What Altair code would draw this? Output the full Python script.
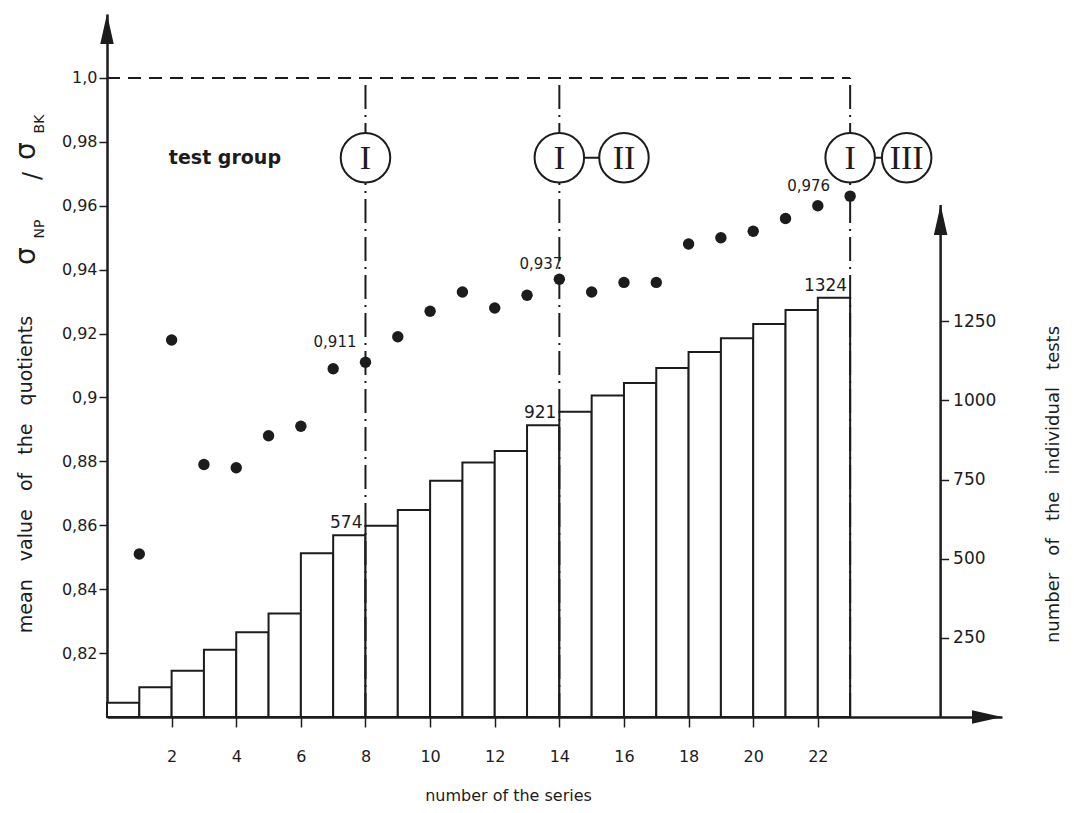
import altair as alt
import pandas as pd

# ---------------- data ----------------
series = list(range(1, 24))
quotients = [0.851, 0.918, 0.879, 0.878, 0.888, 0.891, 0.909, 0.911,
             0.919, 0.927, 0.933, 0.928, 0.932, 0.937, 0.933, 0.936,
             0.936, 0.948, 0.950, 0.952, 0.956, 0.960, 0.963]
tests = [45, 94, 146, 212, 268, 327, 517, 574, 604, 654, 746, 804,
         840, 921, 964, 1015, 1055, 1102, 1153, 1196, 1241, 1285, 1324]
x_ticks = [2, 4, 6, 8, 10, 12, 14, 16, 18, 20, 22]
left_ticks = [0.82, 0.84, 0.86, 0.88, 0.90, 0.92, 0.94, 0.96, 0.98, 1.0]
right_ticks = [250, 500, 750, 1000, 1250]
group_ends = [8, 14, 23]
count_labels = ["574", "921", "1324"]
dot_labels = ["0,911", "0,937", "0,976"]
numerals = ["I", "I", "II", "I", "III"]

# ---------------- layout / style ----------------
W, H = 895, 703
X_MAX = 27.7
YL_MIN, YL_MAX = 0.80, 1.02
YR_MAX = 2220
REF_LEVEL = 1.0
RAXIS_X = 25.8
RAXIS_TOP = 1617
CIRCLE_Y = 0.975
circle_x = [8, 14, 16.0, 23, 24.75]
INK = "#1c1c1c"
FONT = "DejaVu Sans"
NB = "\u00a0\u00a0\u00a0"

xs = alt.Scale(domain=[0, X_MAX], nice=False, zero=False)
yl = alt.Scale(domain=[YL_MIN, YL_MAX], nice=False, zero=False)
yr = alt.Scale(domain=[0, YR_MAX], nice=False, zero=False)

x_axis = alt.Axis(values=x_ticks, title="number of the series", grid=False,
                  domainColor=INK, domainWidth=2.5, tickColor=INK, tickWidth=1.5,
                  tickSize=10, labelFontSize=16, labelPadding=21, labelColor=INK,
                  labelFont=FONT, titleFont=FONT, titleFontSize=16,
                  titleFontWeight="normal", titleColor=INK, titleX=401, titleY=78,
                  titleAlign="center", titleBaseline="middle")

yl_axis = alt.Axis(values=left_ticks, orient="left", grid=False,
                   labelExpr="datum.value == 1 ? '1,0' : replace(format(datum.value, '.2~f'), '.', ',')",
                   domainColor=INK, domainWidth=2.5, tickColor=INK, tickWidth=1.5,
                   tickSize=8, labelFontSize=16, labelPadding=2, labelColor=INK,
                   labelFont=FONT,
                   title="mean" + NB + "value" + NB + "of" + NB + "the" + NB + "quotients",
                   titleFont=FONT, titleFontSize=19, titleFontWeight="normal",
                   titleColor=INK, titleAngle=270, titleX=-82, titleY=460,
                   titleAlign="center", titleBaseline="middle")

r_offset = -(X_MAX - RAXIS_X) / X_MAX * W
yr_axis = alt.Axis(values=right_ticks, orient="right", offset=r_offset, grid=False,
                   format="d", domain=False, tickColor=INK, tickWidth=1.5, tickSize=8,
                   labelFontSize=17, labelPadding=4, labelColor=INK, labelFont=FONT,
                   title="number" + NB + "of" + NB + "the" + NB + "individual" + NB + "tests",
                   titleFont=FONT, titleFontSize=18, titleFontWeight="normal",
                   titleColor=INK, titleAngle=270, titleX=113, titleY=470,
                   titleAlign="center", titleBaseline="middle")


def X(f):
    return alt.X(f, type="quantitative", scale=xs, axis=x_axis)


def YL(f):
    return alt.Y(f, type="quantitative", scale=yl, axis=yl_axis)


def YR(f):
    return alt.Y(f, type="quantitative", scale=yr, axis=yr_axis)


# ---------------- tables ----------------
bars_df = pd.DataFrame({"start": [s - 1 for s in series], "end": series,
                        "tests": tests, "base": [0] * len(series)})
dots_df = pd.DataFrame({"series": series, "q": quotients})
groups_df = pd.DataFrame({"x": group_ends, "y0": [YL_MIN] * 3, "y1": [REF_LEVEL] * 3})
ref_df = pd.DataFrame({"x0": [0], "x1": [group_ends[-1]], "y": [REF_LEVEL]})
circ_df = pd.DataFrame({"x": circle_x, "y": [CIRCLE_Y] * 5, "t": numerals})
conn_df = pd.DataFrame({"x0": [14, 23], "x1": [16.0, 24.75], "y": [CIRCLE_Y] * 2})
cnt_df = pd.DataFrame({"end": group_ends, "tests": [tests[g - 1] for g in group_ends],
                       "t": count_labels})

# ---------------- right-scale group (bars) ----------------
bars = alt.Chart(bars_df).mark_rect(fill="white", stroke=INK, strokeWidth=2).encode(
    x=X("start"), x2="end", y=YR("tests"), y2="base")
cnt_text = alt.Chart(cnt_df).mark_text(align="right", baseline="bottom", dx=-3, dy=-3,
                                       fontSize=17, font=FONT, color=INK).encode(
    x=X("end"), y=YR("tests"), text="t")
raxis_df = pd.DataFrame({"x": [RAXIS_X], "y0": [0], "y1": [RAXIS_TOP]})
raxis = alt.Chart(raxis_df).mark_rule(color=INK, strokeWidth=2.5).encode(
    x=X("x"), y=YR("y0"), y2="y1")
rarrow = alt.Chart(raxis_df).mark_point(shape="M0,-1L0.45,1L-0.45,1Z", filled=True,
                                        size=900, color=INK, opacity=1, yOffset=15,
                                        strokeWidth=0).encode(
    x=X("x"), y=YR("y1"))
right_group = alt.layer(bars, cnt_text, raxis, rarrow)

# ---------------- left-scale group ----------------
ref_line = alt.Chart(ref_df).mark_rule(color=INK, strokeWidth=2, strokeDash=[13, 8]).encode(
    x=X("x0"), x2="x1", y=YL("y"))
vlines = alt.Chart(groups_df).mark_rule(color=INK, strokeWidth=2,
                                        strokeDash=[24, 6, 2, 6]).encode(
    x=X("x"), y=YL("y0"), y2="y1")
conn = alt.Chart(conn_df).mark_rule(color=INK, strokeWidth=2).encode(
    x=X("x0"), x2="x1", y=YL("y"))
circles = alt.Chart(circ_df).mark_point(shape="circle", filled=False, fill="white",
                                        fillOpacity=1, size=2450, stroke=INK,
                                        strokeWidth=2, opacity=1).encode(
    x=X("x"), y=YL("y"))
numer = alt.Chart(circ_df).mark_text(font="Liberation Serif, DejaVu Serif", fontSize=34,
                                     baseline="middle", dy=1, color=INK).encode(
    x=X("x"), y=YL("y"), text="t")
dots = alt.Chart(dots_df).mark_point(shape="circle", filled=True, size=130, color=INK,
                                     opacity=1).encode(
    x=X("series"), y=YL("q"))

dl_offsets = [(-9, -20), (3, -15), (-20, -10)]
dot_texts = []
for g, lab, (ddx, ddy) in zip(group_ends, dot_labels, dl_offsets):
    d = pd.DataFrame({"series": [g], "q": [quotients[g - 1]], "t": [lab]})
    dot_texts.append(alt.Chart(d).mark_text(align="right", baseline="middle", dx=ddx, dy=ddy,
                                            fontSize=15, font=FONT, color=INK).encode(
        x=X("series"), y=YL("q"), text="t"))

tg_df = pd.DataFrame({"x": [3.65], "y": [CIRCLE_Y], "t": ["test group"]})
test_group = alt.Chart(tg_df).mark_text(fontSize=19, fontWeight="bold", font=FONT,
                                        color=INK, baseline="middle").encode(
    x=X("x"), y=YL("y"), text="t")

# arrows at axis ends
larrow_df = pd.DataFrame({"x": [0], "y": [YL_MAX]})
larrow = alt.Chart(larrow_df).mark_point(shape="M0,-1L0.45,1L-0.45,1Z", filled=True,
                                         size=900, color=INK, opacity=1, yOffset=15,
                                         strokeWidth=0).encode(x=X("x"), y=YL("y"))
xarrow_df = pd.DataFrame({"x": [X_MAX], "y": [YL_MIN]})
xarrow = alt.Chart(xarrow_df).mark_point(shape="M1,0L-1,-0.45L-1,0.45Z", filled=True,
                                         size=900, color=INK, opacity=1, xOffset=-15,
                                         strokeWidth=0).encode(x=X("x"), y=YL("y"))


# sigma pieces of the left axis title
def label_piece(text, px, py, size):
    return alt.Chart(pd.DataFrame({"t": [text]})).mark_text(
        angle=270, fontSize=size, font=FONT, color=INK,
        align="center", baseline="middle").encode(
        x=alt.value(px), y=alt.value(py), text="t")


pieces = [
    label_piece("σ", -80, 242, 28),
    label_piece("NP", -67, 215, 14),
    label_piece("/", -74, 162, 24),
    label_piece("σ", -80, 137, 28),
    label_piece("BK", -67, 110, 14),
]

left_group = alt.layer(ref_line, vlines, conn, circles, numer, dots, test_group,
                       larrow, xarrow, *dot_texts, *pieces)

chart = alt.layer(right_group, left_group).resolve_scale(y="independent").properties(
    width=W, height=H,
    background="white",
    autosize=alt.AutoSizeParams(type="none"),
    padding={"left": 99, "top": 6, "right": 64, "bottom": 88},
).configure_view(strokeWidth=0, stroke="transparent")

chart.save("out.html", embed_options={"renderer": "svg", "actions": False})
